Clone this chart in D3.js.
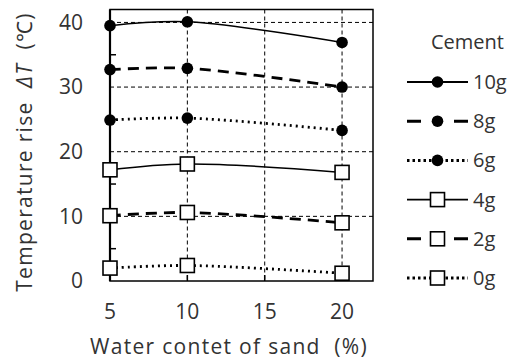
<!DOCTYPE html>
<html>
<head>
<meta charset="utf-8">
<script src="https://cdn.jsdelivr.net/npm/d3@7"></script>
<style>
  body { margin: 0; background: #fff; }
  text { font-family: "Open Sans", sans-serif; fill: #333; }
</style>
</head>
<body>
<div id="chart"></div>
<script>
// water content of sand (%)
var waterContent = [5, 10, 20];
var xTicks = [5, 10, 15, 20];
var yTicks = [0, 10, 20, 30, 40];
var yMinor = [5, 15, 25, 35];

// temperature rise per cement amount
var names = ["10g", "8g", "6g", "4g", "2g", "0g"];
var rise10 = [39.5, 40.1, 36.9];
var rise8  = [32.7, 32.9, 30.0];
var rise6  = [24.9, 25.2, 23.3];
var rise4  = [17.2, 18.1, 16.8];
var rise2  = [10.1, 10.6, 9.0];
var rise0  = [2.0, 2.4, 1.2];
var allRise = [rise10, rise8, rise6, rise4, rise2, rise0];

var styles = [
  {dash: null,   width: 1.5, mark: "circle", legDash: null},
  {dash: "11,7", width: 2.8, mark: "circle", legDash: "14,33"},
  {dash: "2,4",  width: 2.8, mark: "circle", legDash: "2.5,3"},
  {dash: null,   width: 1.5, mark: "square", legDash: null},
  {dash: "11,7", width: 2.8, mark: "square", legDash: "14,33"},
  {dash: "2,4",  width: 2.8, mark: "square", legDash: "2.5,3"}
];

var w = 515, h = 361;
var pl = 110, pr = 373, pt = 9.5, pb = 281;

var x = d3.scaleLinear().domain([5, 22]).range([pl, pr]);
var y = d3.scaleLinear().domain([0, 42]).range([pb, pt]);

var svg = d3.select("#chart").append("svg")
    .attr("width", w)
    .attr("height", h);

// grid
svg.append("g").selectAll("line")
    .data(yTicks.slice(1))
  .enter().append("line")
    .attr("x1", pl).attr("x2", pr)
    .attr("y1", function(d) { return y(d); })
    .attr("y2", function(d) { return y(d); })
    .attr("stroke", "#000").attr("stroke-width", 1)
    .attr("stroke-dasharray", "4,3");

svg.append("g").selectAll("line")
    .data(xTicks.slice(1))
  .enter().append("line")
    .attr("y1", pt).attr("y2", pb)
    .attr("x1", function(d) { return x(d); })
    .attr("x2", function(d) { return x(d); })
    .attr("stroke", "#000").attr("stroke-width", 1)
    .attr("stroke-dasharray", "4,3");

// minor ticks on y, ticks on x (inside)
svg.append("g").selectAll("line")
    .data(yMinor)
  .enter().append("line")
    .attr("x1", pl).attr("x2", pl + 6)
    .attr("y1", function(d) { return y(d); })
    .attr("y2", function(d) { return y(d); })
    .attr("stroke", "#000").attr("stroke-width", 1.5);

svg.append("g").selectAll("line")
    .data(xTicks.slice(1))
  .enter().append("line")
    .attr("y1", pb).attr("y2", pb - 6)
    .attr("x1", function(d) { return x(d); })
    .attr("x2", function(d) { return x(d); })
    .attr("stroke", "#000").attr("stroke-width", 1.5);

// frame
svg.append("rect")
    .attr("x", pl).attr("y", pt)
    .attr("width", pr - pl).attr("height", pb - pt)
    .attr("fill", "none").attr("stroke", "#000").attr("stroke-width", 1.5);
svg.append("line")
    .attr("x1", pl).attr("x2", pl).attr("y1", pt).attr("y2", pb)
    .attr("stroke", "#000").attr("stroke-width", 2.2);

// tick labels
svg.append("g").selectAll("text")
    .data(yTicks)
  .enter().append("text")
    .attr("x", 83)
    .attr("y", function(d) { return y(d); })
    .attr("dy", "0.35em")
    .attr("text-anchor", "end")
    .attr("font-size", 21)
    .text(function(d) { return d; });

svg.append("g").selectAll("text")
    .data(xTicks)
  .enter().append("text")
    .attr("x", function(d) { return x(d); })
    .attr("y", 312)
    .attr("dy", "0.35em")
    .attr("text-anchor", "middle")
    .attr("font-size", 21)
    .text(function(d) { return d; });

// axis titles
svg.append("text")
    .attr("x", 229).attr("y", 347)
    .attr("dy", "0.35em")
    .attr("text-anchor", "middle")
    .attr("font-size", 21)
    .attr("letter-spacing", 1.3)
    .attr("xml:space", "preserve")
    .text("Water contet of sand  (%)");

var yt = svg.append("text")
    .attr("transform", "translate(25,152) rotate(-90)")
    .attr("dy", "0.35em")
    .attr("text-anchor", "middle")
    .attr("font-size", 21)
    .attr("letter-spacing", 1.3)
    .attr("xml:space", "preserve");
yt.append("tspan").text("Temperature rise  ");
yt.append("tspan").attr("font-style", "italic").text("ΔT");
yt.append("tspan").text("  (℃)");

// series
var line = d3.line()
    .x(function(d, i) { return x(waterContent[i]); })
    .y(function(d) { return y(d); })
    .curve(d3.curveCatmullRom.alpha(0.5));

function marker(g, cx, cy, type) {
  if (type == "circle") {
    g.append("circle")
      .attr("cx", cx).attr("cy", cy).attr("r", 5.8)
      .attr("fill", "#000");
  } else {
    g.append("rect")
      .attr("x", cx - 7).attr("y", cy - 7)
      .attr("width", 14).attr("height", 14)
      .attr("fill", "#fff").attr("stroke", "#000").attr("stroke-width", 1.6);
  }
}

allRise.forEach(function(vals, k) {
  var s = styles[k];
  var g = svg.append("g");
  g.append("path")
    .attr("d", line(vals))
    .attr("fill", "none")
    .attr("stroke", "#000")
    .attr("stroke-width", s.width)
    .attr("stroke-dasharray", s.dash);
  vals.forEach(function(v, i) {
    marker(g, x(waterContent[i]), y(v), s.mark);
  });
});

// legend
svg.append("text")
    .attr("x", 431).attr("y", 42)
    .attr("dy", "0.35em")
    .attr("font-size", 20)
    .text("Cement");

names.forEach(function(n, k) {
  var s = styles[k];
  var ly = 82 + k * 39.2;
  var g = svg.append("g");
  g.append("line")
    .attr("x1", 407).attr("x2", 468)
    .attr("y1", ly).attr("y2", ly)
    .attr("stroke", "#000")
    .attr("stroke-width", s.dash ? 3 : 1.8)
    .attr("stroke-dasharray", s.legDash);
  marker(g, 437.5, ly, s.mark);
  g.append("text")
    .attr("x", 473).attr("y", ly)
    .attr("dy", "0.35em")
    .attr("font-size", 20)
    .text(n);
});
</script>
</body>
</html>
